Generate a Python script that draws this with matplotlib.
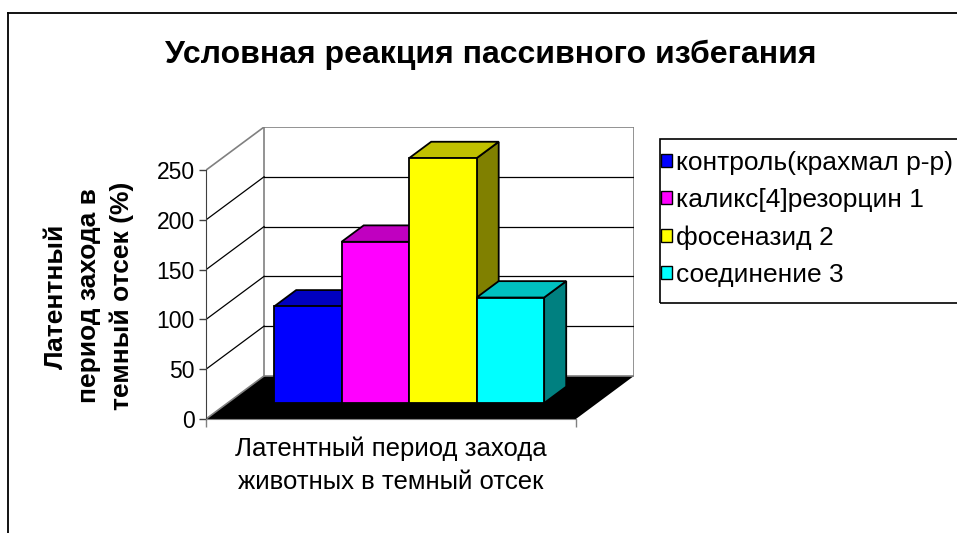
import matplotlib
matplotlib.use("Agg")
import matplotlib.pyplot as plt
from matplotlib.patches import Polygon, Patch, Rectangle

plt.rcParams['font.family'] = ['Liberation Sans', 'DejaVu Sans']

# data
series = ['контроль(крахмал р-р)', 'каликс[4]резорцин 1', 'фосеназид 2', 'соединение 3']
values = [97, 162, 246, 106]
front_colors = ['#0000FF', '#FF00FF', '#FFFF00', '#00FFFF']
top_colors = ['#0000C0', '#C000C0', '#C0C000', '#00C0C0']
side_colors = ['#000080', '#800080', '#808000', '#008080']
yticks = [0, 50, 100, 150, 200, 250]

title = 'Условная реакция пассивного избегания'
xlabel = 'Латентный период захода\nживотных в темный отсек'
ylabel = 'Латентный\nпериод захода в\nтемный отсек (%)'

# oblique 3d layout (x in category widths, y in value units)
DX, DY = 0.157, 43.3
F0, F1 = 0.37, 0.75
BAR_W = 0.1825
START = 0.126
YMAX = 250

W, H = 957, 533
fig = plt.figure(figsize=(W / 100, H / 100), dpi=100)
ax = fig.add_axes([206 / W, (H - 419) / H, 428 / W, 292 / H])
ax.set_xlim(0, 1 + DX)
ax.set_ylim(0, YMAX + DY)

edge_gray = '#808080'

# floor
ax.add_patch(Polygon([(0, 0), (1, 0), (1 + DX, DY), (DX, DY)],
                     closed=True, facecolor='black', edgecolor='none', zorder=1))
# back wall
ax.add_patch(Polygon([(DX, DY), (1 + DX, DY), (1 + DX, YMAX + DY), (DX, YMAX + DY)],
                     closed=True, facecolor='white', edgecolor=edge_gray, lw=1.2, zorder=1))
# gridlines on back wall and side wall
for v in yticks[1:-1]:
    ax.plot([DX, 1 + DX], [v + DY, v + DY], color='black', lw=0.9, zorder=2)
    ax.plot([0, DX], [v, v + DY], color='black', lw=0.9, zorder=2)
ax.plot([0, DX], [YMAX, YMAX + DY], color=edge_gray, lw=1.2, zorder=2)
ax.plot([0, DX], [0, DY], color=edge_gray, lw=1.2, zorder=2)

# bars
for i, (v, fc, tc, sc) in enumerate(zip(values, front_colors, top_colors, side_colors)):
    x0 = START + i * BAR_W
    x1 = x0 + BAR_W
    a0, b0 = F0 * DX, F0 * DY
    a1, b1 = F1 * DX, F1 * DY
    z = 3 + i * 3
    side = [(x1 + a0, b0), (x1 + a1, b1), (x1 + a1, b1 + v), (x1 + a0, b0 + v)]
    top = [(x0 + a0, b0 + v), (x1 + a0, b0 + v), (x1 + a1, b1 + v), (x0 + a1, b1 + v)]
    front = [(x0 + a0, b0), (x1 + a0, b0), (x1 + a0, b0 + v), (x0 + a0, b0 + v)]
    ax.add_patch(Polygon(side, closed=True, facecolor=sc, edgecolor='black', lw=1.3, zorder=z))
    ax.add_patch(Polygon(top, closed=True, facecolor=tc, edgecolor='black', lw=1.3, zorder=z + 1))
    ax.add_patch(Polygon(front, closed=True, facecolor=fc, edgecolor='black', lw=1.3, zorder=z + 2))

# axes
for s in ['top', 'right']:
    ax.spines[s].set_visible(False)
ax.spines['left'].set_bounds(0, YMAX)
ax.spines['left'].set_color('#404040')
ax.spines['bottom'].set_bounds(0, 1)
ax.spines['bottom'].set_color(edge_gray)
ax.spines['left'].set_zorder(20)
ax.spines['bottom'].set_zorder(20)
ax.set_yticks(yticks)
ax.set_yticklabels([str(t) for t in yticks], fontsize=16.5)
ax.set_xticks([0, 1])
ax.set_xticklabels([])
ax.tick_params(axis='y', direction='out', length=5, width=1, color='#404040', pad=3)
ax.tick_params(axis='x', direction='out', length=6, width=1, color=edge_gray)

ax.text(0.5, -0.06, xlabel, transform=ax.get_xaxis_transform(), ha='center', va='top',
        fontsize=18.5, linespacing=1.45)
fig.text(89 / W, 1 - 296 / H, ylabel, rotation=90, ha='center', va='center',
         fontsize=19, fontweight='bold', linespacing=1.45, multialignment='center')
fig.text(491 / W, 1 - 55 / H, title, ha='center', va='center', fontsize=23, fontweight='bold')

# legend with a square frame running off the right edge
handles = [Patch(facecolor=c, edgecolor='black', lw=1) for c in front_colors]
leg = fig.legend(handles, series, loc='upper left', bbox_to_anchor=(661 / W, 1 - 151 / H),
                 fontsize=19, frameon=False,
                 handlelength=0.4, handleheight=0.4, handletextpad=0.15,
                 labelspacing=0.5, borderpad=0, borderaxespad=0)
fig.add_artist(Rectangle((660 / W, 1 - 303 / H), 320 / W, 164 / H, transform=fig.transFigure,
                         facecolor='none', edgecolor='black', lw=1.2))

# outer chart border
fig.add_artist(plt.Line2D([8 / W, 8 / W], [0, 1 - 13 / H], color='black', lw=1.3,
                          transform=fig.transFigure))
fig.add_artist(plt.Line2D([8 / W, 1], [1 - 13 / H, 1 - 13 / H], color='black', lw=1.3,
                          transform=fig.transFigure))

fig.savefig('out.png', dpi=100)
